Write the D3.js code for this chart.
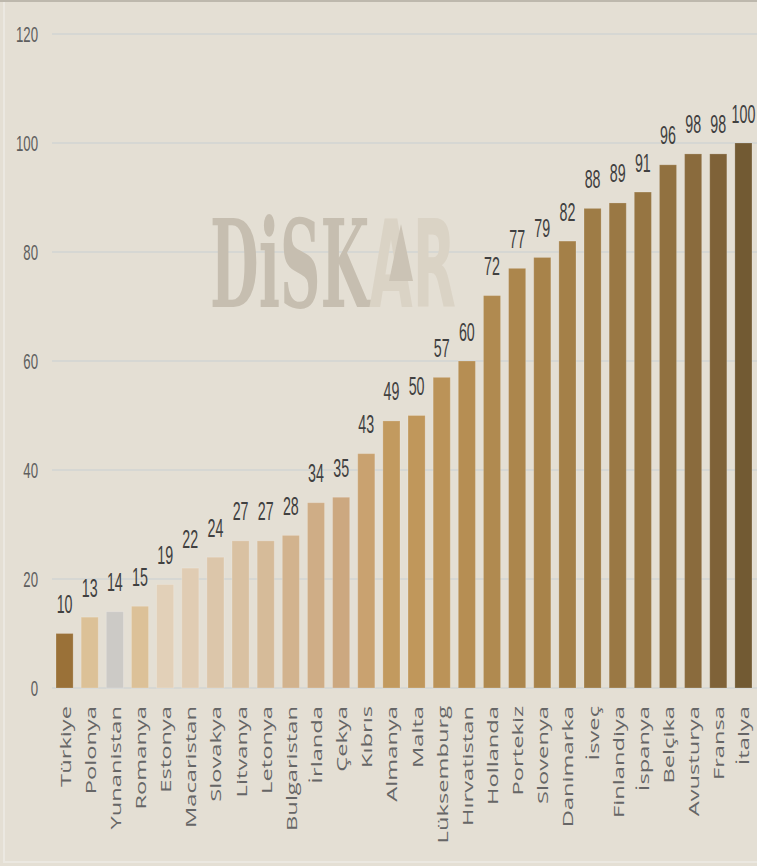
<!DOCTYPE html>
<html>
<head>
<meta charset="utf-8">
<script src="https://cdn.jsdelivr.net/npm/d3@7"></script>
<style>
  body { margin: 0; background: #e4dfd4; }
  svg { display: block; }
</style>
</head>
<body>
<svg id="chart" width="757" height="866"></svg>
<script>
// data
const countries = ["Türkiye", "Polonya", "Yunanistan", "Romanya", "Estonya", "Macaristan", "Slovakya",
  "Litvanya", "Letonya", "Bulgaristan", "İrlanda", "Çekya", "Kıbrıs", "Almanya", "Malta", "Lüksemburg",
  "Hırvatistan", "Hollanda", "Portekiz", "Slovenya", "Danimarka", "İsveç", "Finlandiya", "İspanya",
  "Belçika", "Avusturya", "Fransa", "İtalya"];
const values = [10, 13, 14, 15, 19, 22, 24, 27, 27, 28, 34, 35, 43, 49, 50, 57, 60, 72, 77, 79, 82,
  88, 89, 91, 96, 98, 98, 100];
const barColors = ["#9a7138", "#dcc197", "#cccac6", "#dcc198", "#e2d0b8", "#e0ccb3", "#dcc6aa",
  "#d9c1a2", "#d6bb99", "#d2b38e", "#cfad86", "#cca880", "#c9a270", "#c29a5f", "#c0975b", "#bb9358",
  "#b68e53", "#b08a50", "#ac864c", "#a8834a", "#a48048", "#9e7c46", "#9a7844", "#967542", "#917140",
  "#8a6b3d", "#7f6238", "#725a33"];
const yTicks = [0, 20, 40, 60, 80, 100, 120];

const svg = d3.select("#chart");

svg.append("rect").attr("width", 757).attr("height", 866).attr("fill", "#e4dfd4");
// frame lines
svg.append("rect").attr("x", 0).attr("y", 0).attr("width", 757).attr("height", 2).attr("fill", "#bdb8ad");
svg.append("rect").attr("x", 3).attr("y", 2).attr("width", 2).attr("height", 860).attr("fill", "#ebe8e1");
svg.append("rect").attr("x", 3).attr("y", 861).attr("width", 754).attr("height", 2).attr("fill", "#ebe8e1");

const x = d3.scaleBand()
  .domain(countries)
  .range([52, 756])
  .paddingInner(0.32)
  .paddingOuter(0.16);

const y = d3.scaleLinear()
  .domain([0, 120])
  .range([688, 34]);

// gridlines
svg.append("g")
  .selectAll("line")
  .data(yTicks)
  .join("line")
  .attr("x1", 52)
  .attr("x2", 757)
  .attr("y1", d => y(d))
  .attr("y2", d => y(d))
  .attr("stroke", "#d6d7d3")
  .attr("stroke-width", 2);

// y tick labels
svg.append("g")
  .selectAll("text")
  .data(yTicks)
  .join("text")
  .attr("transform", d => `translate(38,${y(d) + 8}) scale(0.6,1)`)
  .attr("text-anchor", "end")
  .attr("font-family", "Liberation Sans, Arial, sans-serif")
  .attr("font-size", 22)
  .attr("fill", "#5e5e5e")
  .text(d => d);

// watermark
const wm = svg.append("g").attr("transform", "translate(210,307) scale(0.46,1)");
wm.append("text")
  .attr("font-family", "DejaVu Serif, serif")
  .attr("font-weight", "bold")
  .attr("font-size", 122)
  .attr("fill", "#c6beb0")
  .text("DiSK")
  .append("tspan")
  .attr("fill", "#dad3c5")
  .attr("font-family", "DejaVu Sans, sans-serif")
  .text("AR");
svg.append("path")
  .attr("d", "M401,224 L389,281 L413,281 Z")
  .attr("fill", "#cbc3b5");

// bars
svg.append("g")
  .selectAll("rect")
  .data(values)
  .join("rect")
  .attr("x", (d, i) => x(countries[i]))
  .attr("y", d => y(d))
  .attr("width", x.bandwidth())
  .attr("height", d => y(0) - y(d))
  .attr("fill", (d, i) => barColors[i])
  .attr("stroke", "rgba(255,255,255,0.18)")
  .attr("stroke-width", 1);

// value labels
svg.append("g")
  .selectAll("text")
  .data(values)
  .join("text")
  .attr("transform", (d, i) => `translate(${x(countries[i]) + x.bandwidth() / 2},${y(d) - 20.5}) scale(0.57,1)`)
  .attr("text-anchor", "middle")
  .attr("font-family", "Liberation Sans, Arial, sans-serif")
  .attr("font-size", 25)
  .attr("fill", "#404040")
  .text(d => d);

// x labels
svg.append("g")
  .selectAll("text")
  .data(countries)
  .join("text")
  .attr("transform", d => `translate(${x(d) + x.bandwidth() / 2 + 6},706) rotate(-90) scale(1.58,1)`)
  .attr("text-anchor", "end")
  .attr("font-family", "Open Sans, sans-serif")
  .attr("font-size", 15)
  .attr("fill", "#666666")
  .text(d => d);
</script>
</body>
</html>
